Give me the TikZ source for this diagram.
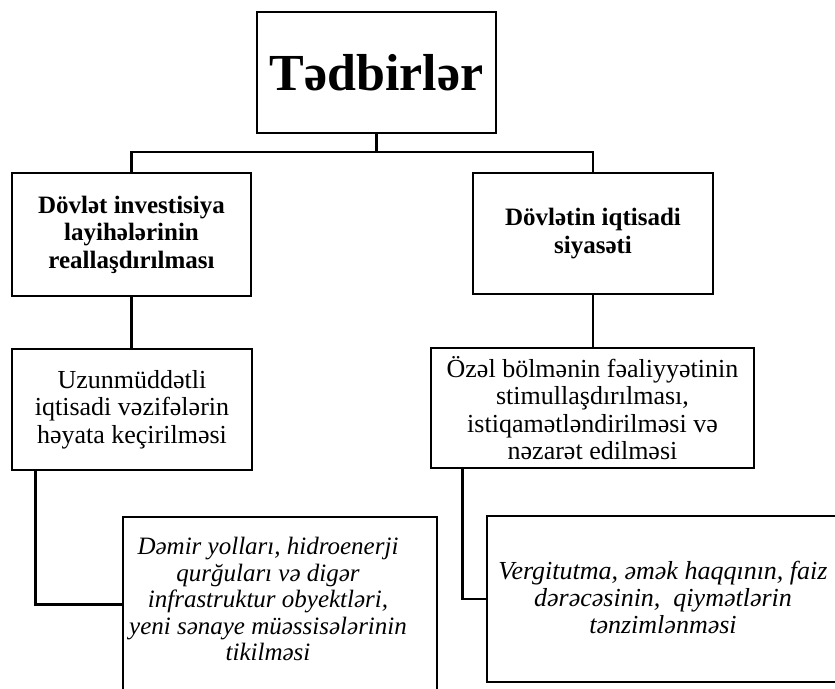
\documentclass[tikz,border=0pt]{standalone}
\usepackage{fontspec}
\setmainfont{Liberation Serif}
\usetikzlibrary{calc}
\tikzset{
  box/.style={draw,line width=1.3pt,inner sep=0pt,align=center},
  hbox/.style={box,font=\fontsize{25}{27.5}\selectfont\bfseries},
  tbox/.style={box,font=\fontsize{26}{27.5}\selectfont},
  itxt/.style={align=center,inner sep=0pt,font=\fontsize{25}{26.5}\selectfont\itshape},
  link/.style={line width=2.3pt},
}
\begin{document}
\begin{tikzpicture}[x=1pt,y=-1pt]
\clip (0,0) rectangle (835,688);
\node[box,minimum width=239,minimum height=121,font=\fontsize{52}{58}\selectfont\bfseries] (top) at (376.5,72.5) {Tədbirlər};
\node[hbox,minimum width=239,minimum height=123] (inv) at (131.5,234.5) {Dövlət investisiya\\layihələrinin\\reallaşdırılması};
\node[hbox,minimum width=240,minimum height=121] (pol) at (593,233.5) {Dövlətin iqtisadi\\siyasəti};
\node[tbox,minimum width=240,minimum height=121] (lng) at (132,409.5) {Uzunmüddətli\\iqtisadi vəzifələrin\\həyata keçirilməsi};
\node[tbox,minimum width=323,minimum height=120] (prv) at (592.5,408) {Özəl bölmənin fəaliyyətinin\\stimullaşdırılması,\\istiqamətləndirilməsi və\\nəzarət edilməsi};
% lower boxes run off the page edge
\node[box,minimum width=314,minimum height=203] (rail) at (280,618.5) {};
\node[itxt] (railtxt) at (268,599) {Dəmir yolları, hidroenerji\\qurğuları və digər\\infrastruktur obyektləri,\\yeni sənaye müəssisələrinin\\tikilməsi};
\node[box,minimum width=413,minimum height=166] (tax) at (693.5,599) {};
\node[itxt,font=\fontsize{26}{27}\selectfont\itshape] (taxtxt) at (663,597) {Vergitutma, əmək haqqının, faiz\\dərəcəsinin,\ \ qiymətlərin\\tənzimlənməsi};
\draw[link] (top.south) -- ++(0,18) coordinate (fork);
\draw[link] (inv.north) |- (fork) -| (pol.north);
\draw[link] (inv.south) -- (inv.south |- lng.north);
\draw[link] (pol.south) -- (pol.south |- prv.north);
\draw[link] ([xshift=24pt]lng.south west) |- ([yshift=-88pt]rail.north west);
\draw[link] ([xshift=32pt]prv.south west) |- (tax.west);
\end{tikzpicture}
\end{document}
